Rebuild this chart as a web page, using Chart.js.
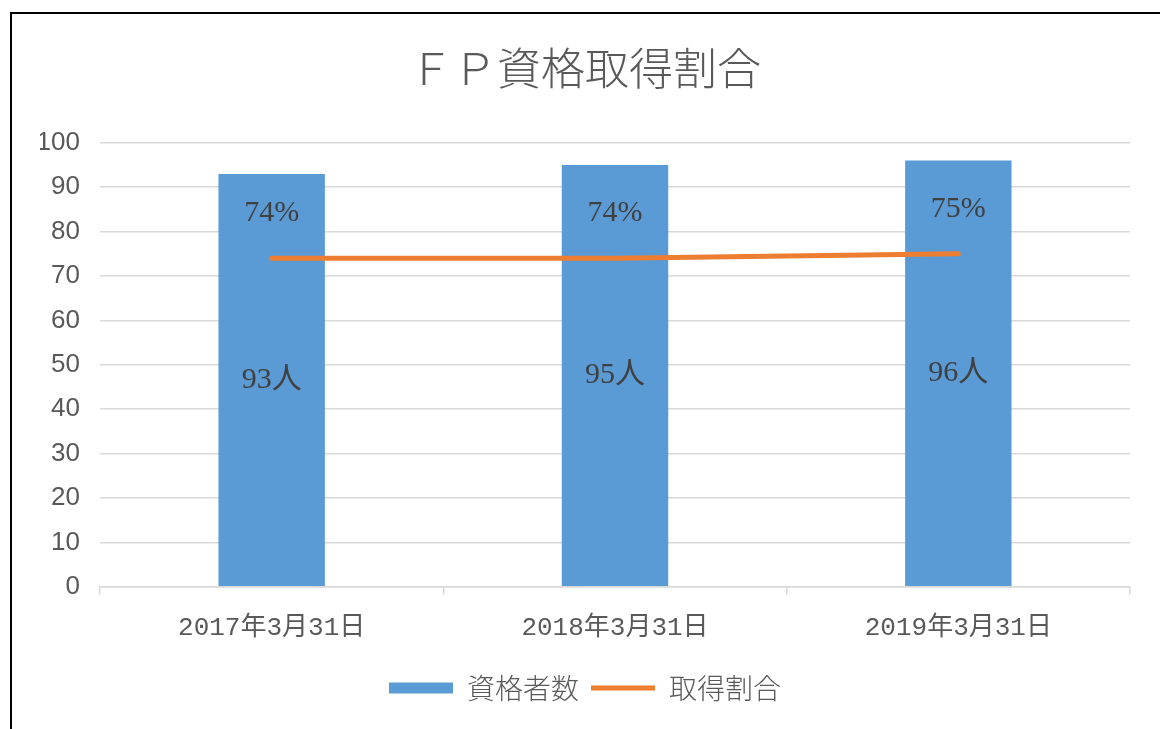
<!DOCTYPE html>
<html>
<head>
<meta charset="utf-8">
<script src="https://cdn.jsdelivr.net/npm/chart.js@4"></script>
<style>
  body { margin: 0; background: #fff; }
  #frame { position: absolute; left: 10px; top: 12px; width: 1300px; height: 900px;
           border-left: 2px solid #000; border-top: 2px solid #000; pointer-events: none; }
  canvas { position: absolute; left: 0; top: 0; }
</style>
</head>
<body>
<canvas id="fpChart" width="1160" height="729"></canvas>
<div id="frame"></div>
<script>
// Data
const categories = ['2017年3月31日', '2018年3月31日', '2019年3月31日'];
const holders = [93, 95, 96];      // 資格者数 (人)
const ratios = [74, 74, 75];       // 取得割合 (%)
const yTicks = [0, 10, 20, 30, 40, 50, 60, 70, 80, 90, 100];

const monoFont = '"Liberation Mono", "Noto Sans CJK JP", monospace';
const serifFont = '"Liberation Serif", "Noto Sans CJK JP", serif';
const narrowFont = '"Liberation Sans Narrow", "Liberation Sans", sans-serif';
const gothFont = '"Noto Sans CJK JP", sans-serif';

// draw the value labels on bars and above the line
const valueLabels = {
    id: 'valueLabels',
    afterDatasetsDraw(chart) {
        const ctx = chart.ctx;
        ctx.save();
        ctx.font = '30px ' + serifFont;
        ctx.fillStyle = '#404040';
        ctx.textAlign = 'center';
        ctx.textBaseline = 'middle';
        chart.getDatasetMeta(0).data.forEach(function(bar, i) {
            ctx.fillText(holders[i] + '人', bar.x, (bar.y + bar.base) / 2);
        });
        chart.getDatasetMeta(1).data.forEach(function(pt, i) {
            ctx.fillText(ratios[i] + '%', pt.x, pt.y - 45);
        });
        ctx.restore();
    }
};

const config = {
    data: {
        labels: categories,
        datasets: [{
            type: 'bar',
            label: '資格者数',
            data: holders,
            backgroundColor: '#5B9BD5',
            borderWidth: 0,
            barPercentage: 0.31,
            categoryPercentage: 1,
            pointStyle: 'rect',
            order: 1
        }, {
            type: 'line',
            label: '取得割合',
            data: ratios,
            borderColor: '#ED7D31',
            backgroundColor: '#ED7D31',
            borderWidth: 5,
            borderCapStyle: 'round',
            pointRadius: 0,
            pointStyle: 'line',
            tension: 0,
            order: 0
        }]
    },
    options: {
        responsive: false,
        animation: false,
        layout: { padding: { left: 40, right: 30, top: 0, bottom: 17 } },
        plugins: {
            title: {
                display: true,
                text: 'ＦＰ資格取得割合',
                color: '#595959',
                font: { family: gothFont, size: 44, weight: 300 },
                padding: { top: 42, bottom: 48 }
            },
            legend: {
                position: 'bottom',
                labels: {
                    usePointStyle: true,
                    pointStyleWidth: 64,
                    boxHeight: 11,
                    color: '#595959',
                    font: { family: gothFont, size: 28, weight: 300 },
                    padding: 12,
                    sort: function(a, b) { return a.datasetIndex - b.datasetIndex; }
                }
            },
            tooltip: { enabled: false }
        },
        scales: {
            x: {
                grid: {
                    offset: true,
                    color: function(c) { return c.index === categories.length ? '#d9d9d9' : 'rgba(0,0,0,0)'; },
                    tickColor: '#d9d9d9',
                    tickLength: 8,
                    lineWidth: 1.5
                },
                border: { color: '#d9d9d9', width: 1.5 },
                ticks: {
                    color: '#595959',
                    font: { family: monoFont, size: 26 },
                    padding: 18
                }
            },
            y: {
                min: 0,
                max: 100,
                afterBuildTicks: function(scale) {
                    scale.ticks = yTicks.map(function(v) { return { value: v }; });
                },
                afterFit: function(scale) { scale.width = 60; },
                grid: { color: '#d9d9d9', lineWidth: 1.5, drawTicks: false },
                border: { display: false },
                ticks: {
                    color: '#595959',
                    font: { family: narrowFont, size: 26 },
                    padding: 20
                }
            }
        }
    },
    plugins: [valueLabels]
};

new Chart(document.getElementById('fpChart').getContext('2d'), config);
</script>
</body>
</html>
